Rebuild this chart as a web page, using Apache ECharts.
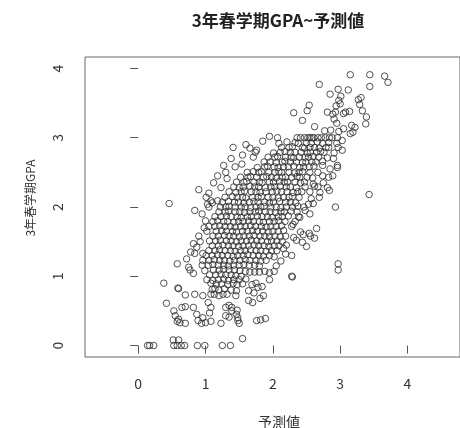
<!DOCTYPE html>
<html>
<head>
<meta charset="utf-8">
<title>3年春学期GPA~予測値</title>
<script src="https://cdn.jsdelivr.net/npm/echarts@6/dist/echarts.min.js"></script>
<style>
  html, body { margin: 0; padding: 0; background: #fff; }
  #chart { width: 460px; height: 428px; }
</style>
</head>
<body>
<div id="chart"></div>
<script>
// tick labels (R style, only integers)
const xTicks = [0, 1, 2, 3, 4]
const yTicks = [0, 1, 2, 3, 4]

// [予測値, GPA], split by band
const topBand = [
  [3.15, 3.91], [3.44, 3.91], [3.66, 3.89], [3.71, 3.8], [2.69, 3.77], [3.44, 3.74], [2.97, 3.7], [3.12, 3.69],
  [2.85, 3.63], [3.01, 3.6], [3.31, 3.58], [3.27, 3.55], [2.98, 3.54], [3.0, 3.49], [2.94, 3.46], [3.29, 3.48],
  [2.54, 3.47], [2.51, 3.39], [3.33, 3.39], [2.31, 3.36], [2.81, 3.37], [2.89, 3.34], [2.93, 3.37], [3.05, 3.35],
  [3.14, 3.38], [2.44, 3.25], [3.39, 3.3], [3.38, 3.2], [3.08, 3.37], [2.91, 3.27], [3.22, 3.15], [3.17, 3.18],
  [3.19, 3.08], [3.15, 3.06], [2.77, 3.1], [2.86, 3.11], [2.98, 3.09], [3.05, 3.13], [2.62, 3.16], [2.95, 3.21]
]
const upperBand = [
  [2.07, 3.0], [2.09, 2.92], [2.36, 3.0], [2.41, 3.0], [2.47, 3.0], [2.52, 3.0], [2.58, 3.0], [2.61, 3.0],
  [2.67, 3.0], [2.72, 3.0], [2.78, 3.0], [2.84, 3.0], [2.88, 3.0], [2.96, 3.0], [3.03, 2.96], [2.55, 3.0],
  [2.21, 2.94], [2.33, 2.93], [2.38, 2.92], [2.5, 2.93], [2.57, 2.92], [2.66, 2.94], [2.74, 2.92], [2.83, 2.93],
  [2.95, 2.92],
  [1.41, 2.86], [1.66, 2.85], [1.76, 2.82], [2.13, 2.86], [2.24, 2.86], [2.29, 2.87], [2.44, 2.86], [2.47, 2.85],
  [2.55, 2.86], [2.62, 2.86], [2.69, 2.85], [2.79, 2.86], [2.83, 2.86], [2.97, 2.86], [3.03, 2.82],
  [1.74, 2.79], [2.01, 2.78], [2.11, 2.79], [2.18, 2.8], [2.26, 2.79], [2.33, 2.79], [2.42, 2.79], [2.51, 2.78],
  [2.56, 2.79], [2.65, 2.79], [2.71, 2.8], [2.76, 2.79], [2.91, 2.78],
  [1.71, 2.72], [1.93, 2.72], [2.03, 2.72], [2.07, 2.73], [2.19, 2.72], [2.27, 2.72], [2.31, 2.71], [2.39, 2.72],
  [2.48, 2.72], [2.53, 2.72], [2.6, 2.73], [2.68, 2.72], [2.81, 2.71],
  [1.87, 2.65], [1.96, 2.65], [2.05, 2.64], [2.14, 2.65], [2.18, 2.66], [2.26, 2.65], [2.35, 2.65], [2.44, 2.64],
  [2.49, 2.65], [2.58, 2.65], [2.64, 2.65], [2.74, 2.66],
  [1.27, 2.6], [1.44, 2.58], [1.54, 2.62], [1.77, 2.57], [1.88, 2.58], [1.92, 2.59], [2.02, 2.58], [2.08, 2.57],
  [2.16, 2.58], [2.23, 2.58], [2.31, 2.59], [2.4, 2.57], [2.46, 2.58], [2.54, 2.58], [2.61, 2.59], [2.74, 2.6],
  [2.96, 2.6], [2.96, 2.57]
]
const middleBand = [
  [1.62, 2.5], [1.71, 2.51], [1.79, 2.5], [1.83, 2.51], [1.94, 2.5], [2.03, 2.5], [2.09, 2.51], [2.13, 2.5],
  [2.24, 2.5], [2.32, 2.49], [2.39, 2.5], [2.44, 2.51], [2.55, 2.5], [2.67, 2.5],
  [1.32, 2.41], [1.52, 2.43], [1.63, 2.43], [1.67, 2.44], [1.76, 2.43], [1.86, 2.43], [1.91, 2.44], [1.98, 2.43],
  [2.05, 2.42], [2.14, 2.43], [2.19, 2.43], [2.28, 2.43], [2.36, 2.44], [2.4, 2.43], [2.51, 2.43], [2.59, 2.42],
  [2.74, 2.45], [2.83, 2.43], [2.89, 2.45],
  [1.46, 2.36], [1.57, 2.36], [1.61, 2.37], [1.72, 2.36], [1.8, 2.36], [1.84, 2.35], [1.95, 2.36], [2.01, 2.36],
  [2.1, 2.37], [2.17, 2.36], [2.22, 2.36], [2.33, 2.36], [2.41, 2.35], [2.47, 2.36], [2.6, 2.33],
  [0.9, 2.25], [1.23, 2.28], [1.42, 2.29], [1.5, 2.28], [1.56, 2.29], [1.66, 2.3], [1.73, 2.29], [1.79, 2.29],
  [1.89, 2.28], [1.97, 2.29], [2.03, 2.29], [2.11, 2.3], [2.2, 2.29], [2.26, 2.29], [2.35, 2.28], [2.48, 2.29],
  [2.67, 2.29], [2.81, 2.28],
  [1.35, 2.22], [1.45, 2.21], [1.53, 2.22], [1.58, 2.23], [1.68, 2.22], [1.75, 2.22], [1.81, 2.21], [1.9, 2.22],
  [1.99, 2.22], [2.06, 2.23], [2.13, 2.22], [2.21, 2.22], [2.3, 2.21], [2.37, 2.22], [2.43, 2.22], [2.55, 2.22],
  [2.7, 2.21], [2.84, 2.24], [3.43, 2.18],
  [1.01, 2.14], [1.29, 2.14], [1.4, 2.15], [1.47, 2.14], [1.55, 2.14], [1.6, 2.13], [1.7, 2.14], [1.78, 2.14],
  [1.83, 2.15], [1.93, 2.14], [2.0, 2.14], [2.08, 2.13], [2.16, 2.14], [2.24, 2.14], [2.29, 2.15], [2.39, 2.14],
  [2.57, 2.12], [2.69, 2.14],
  [1.08, 2.09], [1.18, 2.09], [1.25, 2.07], [1.34, 2.08], [1.43, 2.07], [1.49, 2.07], [1.57, 2.06], [1.65, 2.07],
  [1.72, 2.08], [1.78, 2.07], [1.88, 2.07], [1.95, 2.06], [2.01, 2.07], [2.1, 2.08], [2.19, 2.07], [2.26, 2.07],
  [2.34, 2.06], [2.53, 2.04],
  [0.46, 2.05], [0.84, 1.95], [1.05, 2.0], [1.03, 2.04], [1.1, 2.06], [1.22, 2.0], [1.3, 2.0], [1.35, 2.01],
  [1.44, 2.0], [1.53, 2.0], [1.59, 2.0], [1.67, 1.99], [1.75, 2.0], [1.82, 2.0], [1.87, 2.01], [1.97, 2.0],
  [2.05, 2.0], [2.12, 1.99], [2.2, 2.0], [2.29, 2.0], [2.37, 2.01], [2.46, 2.0], [2.93, 2.0]
]
const lowerBand = [
  [1.2, 1.93], [1.29, 1.93], [1.34, 1.94], [1.44, 1.93], [1.51, 1.93], [1.58, 1.92], [1.66, 1.93], [1.74, 1.93],
  [1.79, 1.94], [1.89, 1.93], [1.96, 1.93], [2.04, 1.92], [2.12, 1.93], [2.17, 1.93], [2.27, 1.94], [2.36, 1.93],
  [2.55, 1.9],
  [1.14, 1.86], [1.23, 1.86], [1.31, 1.87], [1.38, 1.86], [1.47, 1.86], [1.53, 1.85], [1.62, 1.86], [1.68, 1.86],
  [1.77, 1.87], [1.84, 1.86], [1.92, 1.86], [1.99, 1.85], [2.08, 1.86], [2.14, 1.86], [2.23, 1.87], [2.38, 1.86],
  [1.0, 1.8], [1.11, 1.79], [1.18, 1.8], [1.27, 1.79], [1.33, 1.79], [1.42, 1.78], [1.49, 1.79], [1.56, 1.79],
  [1.64, 1.8], [1.71, 1.79], [1.8, 1.79], [1.86, 1.78], [1.95, 1.79], [2.02, 1.79], [2.09, 1.8], [2.18, 1.79],
  [2.33, 1.79],
  [1.05, 1.72], [1.14, 1.72], [1.21, 1.73], [1.29, 1.72], [1.37, 1.72], [1.44, 1.71], [1.52, 1.72], [1.59, 1.72],
  [1.67, 1.73], [1.74, 1.72], [1.83, 1.72], [1.9, 1.71], [1.97, 1.72], [2.05, 1.72], [2.13, 1.73], [2.28, 1.72],
  [2.65, 1.69],
  [1.02, 1.65], [1.16, 1.65], [1.24, 1.66], [1.31, 1.65], [1.4, 1.65], [1.46, 1.64], [1.55, 1.65], [1.62, 1.65],
  [1.7, 1.66], [1.77, 1.65], [1.85, 1.65], [1.93, 1.64], [2.0, 1.65], [2.08, 1.65], [2.16, 1.66], [2.41, 1.64],
  [2.54, 1.62],
  [1.11, 1.58], [1.19, 1.58], [1.28, 1.59], [1.35, 1.58], [1.42, 1.58], [1.5, 1.57], [1.57, 1.58], [1.65, 1.58],
  [1.72, 1.59], [1.81, 1.58], [1.88, 1.58], [1.95, 1.57], [2.03, 1.58], [2.11, 1.57], [2.19, 1.58], [2.31, 1.56],
  [2.45, 1.6], [2.56, 1.58],
  [1.06, 1.51], [1.15, 1.51], [1.22, 1.52], [1.31, 1.51], [1.38, 1.51], [1.46, 1.5], [1.53, 1.51], [1.61, 1.51],
  [1.68, 1.52], [1.76, 1.51], [1.83, 1.51], [1.92, 1.5], [1.98, 1.51], [2.06, 1.51], [2.14, 1.5], [2.44, 1.49],
  [2.62, 1.55],
  [0.82, 1.47], [0.87, 1.42], [1.1, 1.44], [1.19, 1.44], [1.26, 1.45], [1.34, 1.44], [1.41, 1.44], [1.49, 1.43],
  [1.56, 1.44], [1.64, 1.44], [1.72, 1.45], [1.79, 1.44], [1.87, 1.44], [1.94, 1.43], [2.02, 1.44], [2.09, 1.44],
  [2.5, 1.43],
  [1.05, 1.37], [1.14, 1.37], [1.21, 1.38], [1.29, 1.37], [1.37, 1.37], [1.44, 1.36], [1.52, 1.37], [1.59, 1.37],
  [1.67, 1.38], [1.75, 1.37], [1.82, 1.37], [1.9, 1.36], [1.98, 1.37], [2.06, 1.37], [2.16, 1.4],
  [0.84, 1.33], [0.96, 1.33], [1.01, 1.3], [1.1, 1.3], [1.18, 1.31], [1.25, 1.3], [1.33, 1.3], [1.41, 1.29],
  [1.48, 1.3], [1.56, 1.3], [1.63, 1.31], [1.71, 1.3], [1.79, 1.3], [1.86, 1.29], [1.95, 1.3], [2.02, 1.28],
  [2.19, 1.32]
]
const bottomBand = [
  [0.96, 1.23], [1.05, 1.23], [1.13, 1.24], [1.21, 1.23], [1.28, 1.23], [1.36, 1.22], [1.43, 1.23], [1.51, 1.23],
  [1.59, 1.24], [1.66, 1.23], [1.75, 1.23], [1.82, 1.22], [1.9, 1.23],
  [0.58, 1.18], [0.75, 1.13], [0.95, 1.16], [1.04, 1.16], [1.11, 1.17], [1.19, 1.16], [1.27, 1.16], [1.34, 1.15],
  [1.42, 1.16], [1.5, 1.16], [1.57, 1.17], [1.65, 1.16], [1.73, 1.16], [1.8, 1.15], [2.97, 1.18],
  [0.77, 1.09], [0.99, 1.08], [1.12, 1.09], [1.2, 1.09], [1.27, 1.1], [1.35, 1.09], [1.43, 1.09], [1.51, 1.08],
  [1.59, 1.07], [1.66, 1.06], [1.73, 1.06], [1.8, 1.06], [1.88, 1.07], [2.02, 1.07], [2.97, 1.09],
  [0.82, 1.04], [1.06, 1.02], [1.15, 1.02], [1.23, 1.03], [1.3, 1.02], [1.38, 1.02], [1.45, 1.01], [1.53, 1.0],
  [2.28, 1.0], [2.29, 0.99],
  [1.02, 0.95], [1.11, 0.94], [1.19, 0.95], [1.27, 0.96], [1.34, 0.94], [1.42, 0.95], [1.5, 0.95], [1.6, 0.96],
  [0.38, 0.9], [1.08, 0.9], [1.16, 0.89], [1.24, 0.89], [1.33, 0.88], [1.41, 0.9], [1.47, 0.88], [1.55, 0.89],
  [1.69, 0.88], [1.78, 0.84], [1.84, 0.85], [1.75, 0.9],
  [0.6, 0.82], [0.59, 0.83], [1.1, 0.81], [1.14, 0.82], [1.2, 0.8], [1.28, 0.82], [1.38, 0.8], [1.46, 0.79],
  [1.64, 0.79], [1.72, 0.76],
  [0.7, 0.73], [0.84, 0.74], [0.96, 0.72], [1.08, 0.74], [1.13, 0.74], [1.2, 0.72], [1.26, 0.74], [1.32, 0.74],
  [1.45, 0.72], [1.86, 0.72], [1.81, 0.68], [1.64, 0.65],
  [0.42, 0.61], [0.53, 0.5], [0.55, 0.43], [0.6, 0.38], [0.62, 0.33], [0.58, 0.35], [0.65, 0.55], [0.7, 0.56],
  [0.7, 0.32], [0.82, 0.55], [0.87, 0.45], [0.89, 0.36], [0.94, 0.32], [0.96, 0.4], [1.0, 0.33], [1.08, 0.35],
  [1.06, 0.47], [1.08, 0.55], [1.04, 0.62], [1.23, 0.32], [1.3, 0.43], [1.35, 0.41], [1.39, 0.5], [1.46, 0.45],
  [1.48, 0.36], [1.5, 0.32], [1.48, 0.4], [1.3, 0.55], [1.39, 0.55], [1.35, 0.58], [1.47, 0.51], [1.76, 0.36],
  [1.82, 0.37], [1.89, 0.39], [1.7, 0.62]
]
const zeroBand = [
  [0.14, 0], [0.17, 0], [0.23, 0], [0.53, 0], [0.58, 0], [0.64, 0], [0.69, 0], [0.88, 0], [0.99, 0],
  [1.25, 0], [1.37, 0], [0.52, 0.08], [0.6, 0.08], [1.55, 0.1]
]
// loose points on both edges of the band
const fringe = [
  [0.95, 1.9], [1.05, 2.2], [1.12, 2.35], [1.18, 2.45], [0.98, 1.7], [0.9, 1.58], [0.78, 1.35], [0.72, 1.25],
  [0.92, 1.5], [1.3, 2.5], [1.38, 2.7], [1.55, 2.75], [1.6, 2.9], [1.85, 2.95], [1.95, 3.02],
  [2.3, 1.75], [2.4, 1.85], [2.48, 1.95], [2.6, 2.05], [2.62, 2.3], [2.75, 2.35], [2.2, 1.45], [2.28, 1.3],
  [2.05, 1.15], [1.95, 1.05], [2.12, 1.22], [2.35, 1.52], [2.85, 2.55], [2.9, 2.7], [1.95, 0.95]
]

const points = [].concat(topBand, upperBand, middleBand, lowerBand, bottomBand, zeroBand, fringe)

let chart = echarts.init(document.getElementById('chart'), null, {renderer: 'canvas'})
chart.setOption({
  animation: false,
  backgroundColor: '#fff',
  textStyle: {
    fontFamily: '"Noto Sans CJK JP", "Noto Sans", sans-serif'
  },
  grid: {
    left: 85,
    top: 57,
    right: -11,
    bottom: 71,
    show: true,
    borderColor: '#666',
    borderWidth: 1
  },
  xAxis: {
    type: 'value',
    min: -0.79,
    max: 4.78,
    splitLine: { show: false },
    axisLine: { show: false },
    axisTick: {
      show: true,
      customValues: xTicks,
      length: 8,
      lineStyle: { color: '#555' }
    },
    axisLabel: {
      customValues: xTicks,
      fontSize: 14,
      color: '#333',
      margin: 20
    }
  },
  yAxis: {
    type: 'value',
    min: -0.166,
    max: 4.166,
    splitLine: { show: false },
    axisLine: { show: false },
    axisTick: {
      show: true,
      customValues: yTicks,
      length: 8,
      lineStyle: { color: '#555' }
    },
    axisLabel: {
      customValues: yTicks,
      rotate: 90,
      fontSize: 14,
      color: '#333',
      margin: 20
    }
  },
  graphic: [
    {
      type: 'text', x: 278, y: 21,
      style: {
        text: '3年春学期GPA~予測値', textAlign: 'center', textVerticalAlign: 'middle',
        font: 'bold 17px "Noto Sans CJK JP"', fill: '#222'
      }
    },
    {
      type: 'text', x: 279, y: 422,
      style: {
        text: '予測値', textAlign: 'center', textVerticalAlign: 'middle',
        font: '14px "Noto Sans CJK JP"', fill: '#333'
      }
    },
    {
      type: 'text', x: 30, y: 198, rotation: Math.PI / 2,
      style: {
        text: '3年春学期GPA', textAlign: 'center', textVerticalAlign: 'middle',
        font: '12px "Noto Sans CJK JP"', fill: '#333'
      }
    }
  ],
  series: [{
    type: 'scatter',
    data: points,
    symbol: 'circle',
    symbolSize: 6.5,
    silent: true,
    itemStyle: {
      color: 'rgba(0,0,0,0)',
      borderColor: '#333',
      borderWidth: 1,
      opacity: 0.85
    }
  }]
})
</script>
</body>
</html>
